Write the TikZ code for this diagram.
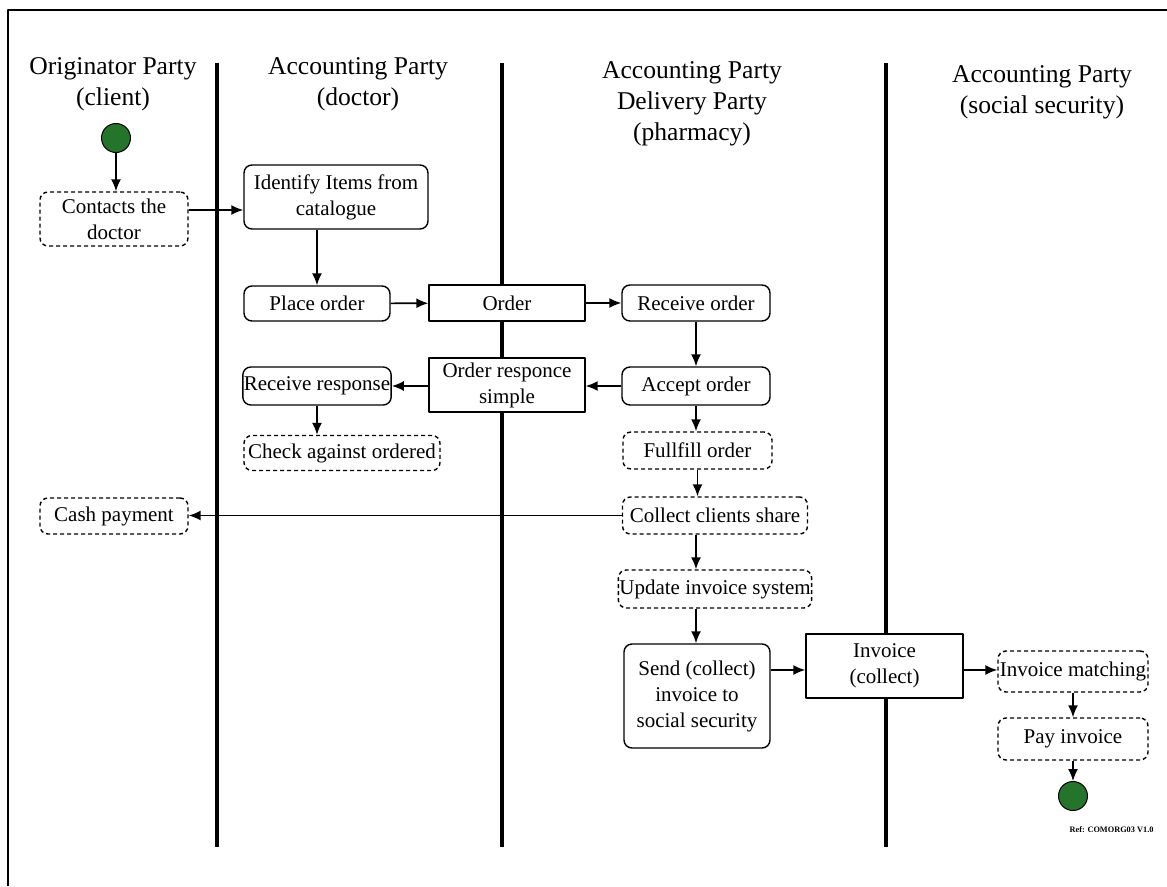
\documentclass[tikz,border=0pt]{standalone}
\usepackage{fontspec}
\setmainfont{Liberation Serif}
\usetikzlibrary{arrows.meta,positioning}
\definecolor{startgreen}{RGB}{37,116,43}
\begin{document}
\begin{tikzpicture}[x=1pt, y=-1pt, line join=round, >={Latex[length=12pt,width=10pt]},
	act/.style={draw, rounded corners=8pt, line width=1.4pt, fill=white, align=center, inner sep=1pt, font=\fontsize{21}{26}\selectfont},
	opt/.style={act, dash pattern=on 4pt off 3pt},
	obj/.style={act, rounded corners=0pt},
	dot/.style={circle, draw, line width=1pt, fill=startgreen, minimum size=29pt, inner sep=0pt},
	lane/.style={line width=3.2pt},
	flow/.style={->, line width=1.6pt},
	title/.style={align=center, font=\fontsize{25.6}{31}\selectfont}]
	\useasboundingbox (0,0) rectangle (1167,886);
	% frame and lanes
	\draw [line width=2.4pt] (8,886) -- (8,10) -- (1167,10);
	\foreach \lx in {217,502,886}
		\draw [lane] (\lx,63) -- (\lx,847);
	%
	\node [title] (client) at (113,84) {Originator Party\\(client)};
	\node [title] (doctor) at (358,84) {Accounting Party\\(doctor)};
	\node [title] (pharmacy) at (692,104) {Accounting Party\\Delivery Party\\(pharmacy)};
	\node [title] (socsec) at (1042,92) {Accounting Party\\(social security)};
	%
	\node [dot] (start) at (116,138) {};
	\node [opt, minimum width=148pt, minimum height=54pt] (contacts) at (114,219) {Contacts the\\doctor};
	\node [act, minimum width=184pt, minimum height=64pt] (identify) at (336,197) {Identify Items from\\catalogue};
	\node [act, minimum width=146pt, minimum height=35pt] (place) at (317,303.5) {Place order};
	\node [obj, minimum width=156pt, minimum height=36pt] (order) at (507,303) {Order};
	\node [act, minimum width=148pt, minimum height=36pt] (receive) at (696,303) {Receive order};
	\node [act, minimum width=146pt, minimum height=38pt] (response) at (317,386) {Receive response};
	\node [obj, minimum width=156pt, minimum height=54pt] (responce) at (507,385) {Order responce\\simple};
	\node [act, minimum width=148pt, minimum height=38pt] (accept) at (696,386) {Accept order};
	\node [opt, minimum width=196pt, minimum height=35pt] (check) at (342,453) {Check against ordered};
	\node [opt, minimum width=149pt, minimum height=37pt] (fulfill) at (697.5,450.5) {Fullfill order};
	\node [opt, minimum width=148pt, minimum height=36pt] (cash) at (114,516) {Cash payment};
	\node [opt, minimum width=185pt, minimum height=37pt] (collect) at (715,515.5) {Collect clients share};
	\node [opt, minimum width=186pt, minimum height=38pt] (update) at (715,589) {Update invoice system};
	\node [act, minimum width=146pt, minimum height=104pt] (send) at (697,696) {Send (collect)\\invoice to\\social security};
	\node [obj, minimum width=157pt, minimum height=64pt] (invoice) at (884.5,666) {Invoice\\(collect)};
	\node [opt, minimum width=150pt, minimum height=41pt] (matching) at (1073,671.5) {Invoice matching};
	\node [opt, minimum width=150pt, minimum height=42pt] (pay) at (1073,739) {Pay invoice};
	\node [dot] (end) at (1073,796) {};
	\node [anchor=east, font=\fontsize{8.3}{9}\selectfont\bfseries] (ref) at (1157,830) {Ref: COMORG03 V1.0};
	%
	\draw [flow] (start) -- (start |- contacts.north);
	\draw [flow] (contacts.east |- 0,210) -- (identify.west |- 0,210);
	\draw [flow] (place.north |- identify.south) -- (place);
	\draw [flow] (place) -- (order);
	\draw [flow] (order) -- (receive);
	\draw [flow] (receive) -- (accept);
	\draw [flow] (accept.west) -- (responce.east |- accept.west);
	\draw [flow] (responce.west |- response.east) -- (response.east);
	\draw [flow] (response) -- (check.north -| response);
	\draw [flow] (accept.south) -- (accept.south |- fulfill.north);
	\draw [flow] (fulfill.south) -- (fulfill.south |- collect.north);
	\draw [flow] (collect.west) -- (cash.east |- collect.west);
	\draw [flow] (accept.south |- collect.south) -- (accept.south |- update.north);
	\draw [flow] (accept.south |- update.south) -- (accept.south |- send.north);
	\draw [flow] (send.east |- 0,670) -- (invoice.west |- 0,670);
	\draw [flow] (invoice.east |- 0,670) -- (matching.west |- 0,670);
	\draw [flow] (matching) -- (pay);
	\draw [flow] (pay) -- (end);
\end{tikzpicture}
\end{document}
